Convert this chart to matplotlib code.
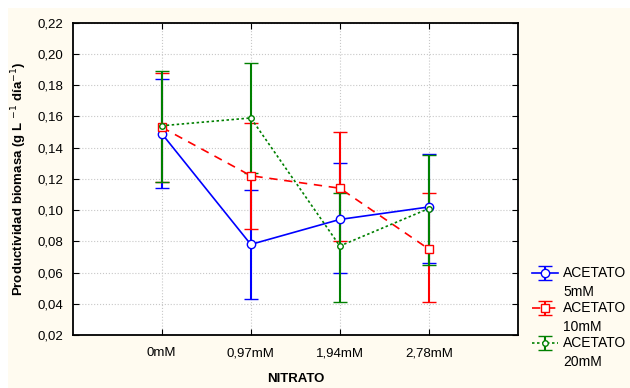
import numpy as np
import matplotlib
matplotlib.use("Agg")
from matplotlib import pyplot as plt
from matplotlib.patches import Rectangle
from matplotlib.legend_handler import HandlerErrorbar
from matplotlib.container import ErrorbarContainer

# DATOS
nitrato = ["0mM", "0,97mM", "1,94mM", "2,78mM"]
series = ["ACETATO\n5mM", "ACETATO\n10mM", "ACETATO\n20mM"]

media_5 = [0.149, 0.078, 0.094, 0.102]
sup_5 = [0.184, 0.113, 0.130, 0.136]
inf_5 = [0.114, 0.043, 0.060, 0.066]

media_10 = [0.153, 0.122, 0.114, 0.075]
sup_10 = [0.188, 0.156, 0.150, 0.111]
inf_10 = [0.118, 0.088, 0.080, 0.041]

media_20 = [0.154, 0.159, 0.077, 0.101]
sup_20 = [0.189, 0.194, 0.111, 0.135]
inf_20 = [0.118, 0.124, 0.041, 0.065]

yticks = [0.02, 0.04, 0.06, 0.08, 0.10, 0.12, 0.14, 0.16, 0.18, 0.20, 0.22]

plt.rcParams['font.family'] = ['Liberation Sans', 'DejaVu Sans']


# handle de la leyenda alineado con la primera linea del texto
class HandlerArriba(HandlerErrorbar):
    def create_artists(self, legend, orig_handle, xdescent, ydescent, width,
                       height, fontsize, trans):
        return super().create_artists(legend, orig_handle, xdescent,
                                      ydescent - 1.45 * fontsize, width, height,
                                      fontsize, trans)


fig = plt.figure(figsize=(6.3, 3.88), dpi=100)
fig.patch.set_facecolor("white")
fig.patches.append(Rectangle((8/630, 0), 1, 1 - 8/388, transform=fig.transFigure,
                             facecolor="#FFFBF0", edgecolor="none", zorder=-1))
ax = fig.add_axes([0.1154, 0.1366, 0.8221 - 0.1154, 0.9415 - 0.1366])
ax.set_facecolor("white")

x = np.arange(len(nitrato))
estilos = [
    (media_5, sup_5, inf_5, "#0000FF", "-", "o", 6),
    (media_10, sup_10, inf_10, "#FF0000", (0, (5, 4)), "s", 6),
    (media_20, sup_20, inf_20, "#008000", (0, (1.5, 1.5)), "o", 4),
]
for (m, s, i, c, ls, mk, ms), nombre in zip(estilos, series):
    m = np.array(m); s = np.array(s); i = np.array(i)
    err = [m - i, s - m]
    ax.errorbar(x, m, yerr=err, color=c, ls=ls, lw=1.2, marker=mk, ms=ms,
                mfc="white", mec=c, mew=1, capsize=5, capthick=1.5,
                elinewidth=1.5, label=nombre)

ax.set_xlim(-1, 4)
ax.set_ylim(0.02, 0.22)
ax.set_xticks(x)
ax.set_xticklabels(nitrato, fontsize=9.5)
ax.set_yticks(yticks)
ax.set_yticklabels([("%.2f" % v).replace(".", ",") for v in yticks], fontsize=9.5)
ax.tick_params(direction="in", top=True, right=True, length=4)
ax.tick_params(axis="x", pad=9)
ax.tick_params(axis="y", pad=7)
ax.grid(True, color="#C8C8C8", ls=":", lw=0.8)
for sp in ax.spines.values():
    sp.set_linewidth(1.3)

ax.set_xlabel("NITRATO", fontsize=9.5, fontweight="bold", labelpad=10)
ax.set_ylabel("Productividad biomasa (g L $^{-1}$ día$^{-1}$)", fontsize=9.5,
              fontweight="bold", labelpad=6)

leg = ax.legend(loc="upper left", bbox_to_anchor=(1.0, 0.265), frameon=False,
                fontsize=10, handlelength=1.9, handletextpad=0.35, labelspacing=0.15,
                borderaxespad=0.6,
                handler_map={ErrorbarContainer: HandlerArriba(xerr_size=0.5)})
for t in leg.get_texts():
    t.set_linespacing(1.45)

plt.savefig("out.png", dpi=100, facecolor=fig.get_facecolor())
